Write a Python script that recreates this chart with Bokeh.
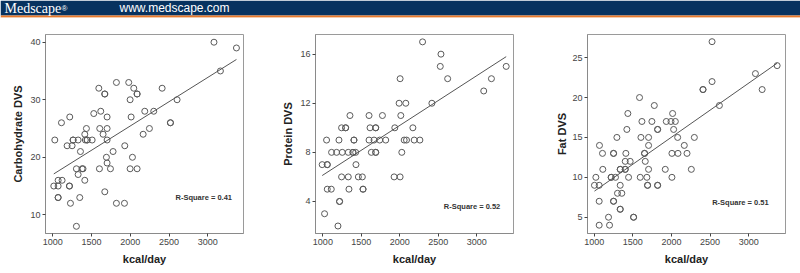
from bokeh.plotting import figure
from bokeh.layouts import column, row
from bokeh.models import FixedTicker, Label, Range1d
from bokeh.core.properties import value
from bokeh.embed import file_html
from bokeh.resources import INLINE

# ---------------- data ----------------
carb_kcal = [3080, 3370, 3163, 2604, 2411, 2518, 2518, 2303, 2187, 2247, 2166, 1980, 2045, 2088, 2088,
             1998, 2011, 2028, 1998, 2088, 1929, 1925, 1821, 1821, 1594, 1671, 1671, 1619, 1529, 1701,
             1606, 1701, 1649, 1701, 1778, 1692, 1701, 1744, 1602, 1671, 1219, 1112, 1434, 1413, 1026,
             1262, 1262, 1327, 1443, 1443, 1420, 1508, 1185, 1249, 1357, 1305, 1378, 1390, 1327, 1413,
             1069, 1120, 1013, 1069, 1215, 1215, 1069, 1069, 1348, 1228, 1305]
carb_dvs = [40, 39, 35, 30, 32, 26, 26, 28, 28, 25, 24, 33, 32, 31, 31,
            30, 27, 20, 18, 18, 22, 12, 12, 33, 32, 31, 31, 28, 27.6, 27,
            25, 25, 24, 23, 21, 20, 19, 18, 18, 14, 27, 26, 25, 24, 23,
            23, 23, 23, 23, 23, 23, 23, 22, 22, 21, 18, 18, 18, 17, 16,
            16, 16, 15, 15, 15, 15, 13, 13, 13, 12, 8]

prot_kcal = [2296, 2535, 2526, 3383, 2622, 2004, 3091, 3191, 2417, 1991, 2078, 2013, 1774, 1600, 1352,
             1935, 2170, 1613, 1687, 1687, 1296, 1296, 1243, 1048, 1209, 1404, 1404, 1600, 1665, 1739,
             1817, 2057, 2087, 2187, 2261, 991, 1057, 1057, 1430, 1113, 1178, 1252, 1330, 1391, 1391,
             1426, 1630, 1687, 1687, 2026, 1057, 1109, 1339, 1522, 1522, 1243, 1330, 1461, 1513, 1926,
             2004, 1217, 1217, 1022, 1196]
prot_dvs = [17, 16, 15, 15, 14, 14, 13, 14, 12, 12, 12, 11, 11, 11, 11,
            10, 10, 10, 10, 10, 10, 10, 10, 9, 9, 9, 9, 9, 9, 9,
            9, 9, 9, 9, 9, 7, 7, 7, 7, 8, 8, 8, 8, 8, 8,
            8, 8, 8, 8, 8, 5, 5, 5, 5, 5, 6, 6, 6, 6, 6,
            6, 4, 4, 3, 2]

fat_kcal = [2525, 2525, 3367, 3086, 3173, 2408, 2408, 2620, 1587, 1778, 1436, 2015, 1618, 1747, 1933,
            1994, 2050, 1423, 1821, 1821, 2028, 1294, 1605, 1704, 2080, 2296, 1069, 1704, 2166, 1108,
            1251, 1251, 1410, 1652, 1652, 2006, 2084, 2201, 1402, 1466, 1661, 1112, 1337, 1337, 1402,
            1402, 1704, 1920, 2257, 1022, 1220, 1220, 1276, 1445, 1596, 1682, 2006, 1004, 1065, 1337,
            1691, 1691, 1821, 1821, 1302, 1358, 1065, 1251, 1251, 1337, 1337, 1186, 1510, 1510, 1065,
            1199]
fat_dvs = [27, 22, 24, 23, 21, 21, 21, 19, 20, 19, 18, 18, 17, 17, 17,
           17, 17, 16, 16, 16, 16, 15, 15, 15, 15, 15, 14, 14, 14, 13,
           13, 13, 13, 13, 13, 13, 13, 13, 12, 12, 12, 11, 11, 11, 11,
           11, 11, 11, 11, 10, 10, 10, 10, 10, 10, 10, 10, 9, 9, 9,
           9, 9, 9, 9, 8, 8, 7, 7, 7, 6, 6, 5, 5, 5, 4,
           4]

# fit lines (intercept, slope) and R-square labels
fit_coef = {"carb": (8.56, 0.008439), "prot": (2.10, 0.004048), "fat": (1.46, 0.006784)}
r_square = {"carb": "R-Square = 0.41", "prot": "R-Square = 0.52", "fat": "R-Square = 0.51"}
y_labels = {"carb": "Carbohydrate DVS", "prot": "Protein DVS", "fat": "Fat DVS"}
x_ticks = [1000, 1500, 2000, 2500, 3000]
y_ticks = {"carb": [10, 20, 30, 40], "prot": [4, 8, 12, 16], "fat": [5, 10, 15, 20, 25]}

FONT = "Liberation Sans"


def panel(key, xs, ys, width, left, right, xr, yr, label_pos, label_standoff):
    p = figure(width=width, height=255, output_backend="svg", toolbar_location=None,
               x_range=Range1d(*xr), y_range=Range1d(*yr),
               min_border_left=left, min_border_right=right,
               min_border_top=16, min_border_bottom=40)
    p.background_fill_color = "white"
    p.border_fill_color = "white"
    p.outline_line_color = "#9a9a9a"
    p.outline_line_width = 1
    p.grid.visible = False
    for ax in (p.xaxis, p.yaxis):
        ax.axis_line_color = "#8a8a8a"
        ax.major_tick_line_color = "#444444"
        ax.major_tick_in = 0
        ax.major_tick_out = 3
        ax.minor_tick_line_color = None
        ax.major_label_text_font = FONT
        ax.major_label_text_font_size = "9px"
        ax.major_label_text_color = "#444444"
        ax.major_label_standoff = 2
        ax.axis_label_text_font = FONT
        ax.axis_label_text_font_size = "11px"
        ax.axis_label_text_font_style = "bold"
        ax.axis_label_text_color = "#222222"
    p.xaxis.ticker = FixedTicker(ticks=x_ticks)
    p.yaxis.ticker = FixedTicker(ticks=y_ticks[key])
    p.xaxis.axis_label = "kcal/day"
    p.yaxis.axis_label = y_labels[key]
    p.xaxis.axis_label_standoff = 5
    p.yaxis.axis_label_standoff = label_standoff

    p.scatter(xs, ys, marker="circle", size=6, fill_color=None,
              line_color="#5a5a5a", line_width=1)
    a, b = fit_coef[key]
    x0, x1 = min(xs), max(xs)
    p.line([x0, x1], [a + b * x0, a + b * x1], line_color="#555555", line_width=1)
    p.add_layout(Label(x=label_pos[0], y=label_pos[1], text=r_square[key],
                       text_font=FONT, text_font_size="7.5px", text_font_style="bold",
                       text_color="#333333", text_align="center", text_baseline="middle"))
    return p


p1 = panel("carb", carb_kcal, carb_dvs, 270, 45, 27, (906, 3461), (6.75, 41.34), (2948, 13.07), 3)
p2 = panel("prot", prot_kcal, prot_dvs, 270, 45, 27, (904, 3478), (1.39, 17.6), (2939, 3.56), 3)
p3 = panel("fat", fat_kcal, fat_dvs, 260, 47, 15, (914, 3475), (2.96, 27.9), (2892, 6.8), 1)

# header band
h = figure(width=800, height=18, output_backend="svg", toolbar_location=None,
           x_range=Range1d(0, 800), y_range=Range1d(0, 18),
           min_border=0, min_border_left=0, min_border_right=0,
           min_border_top=0, min_border_bottom=0)
h.axis.visible = False
h.grid.visible = False
h.outline_line_color = None
h.background_fill_color = "white"
h.border_fill_color = "white"
h.quad(left=[0], right=[800], bottom=[3], top=[18], fill_color="#07325f", line_color=None)
h.quad(left=[0], right=[800], bottom=[1], top=[3], fill_color="#e8782a", line_color=None)
h.quad(left=[0], right=[800], bottom=[0], top=[1], fill_color="#f6dcc4", line_color=None)
h.text(x=[4], y=[10.5], text=["Medscape"], text_font=value("Liberation Serif"),
       text_font_size="14px", text_color="white", text_baseline="middle")
h.text(x=[61], y=[10], text=["®"], text_font=value(FONT),
       text_font_size="8px", text_color="white", text_baseline="middle")
h.text(x=[119], y=[10.5], text=["www.medscape.com"], text_font=value(FONT),
       text_font_size="12px", text_color="white", text_baseline="middle")

layout = column(h, row(p1, p2, p3, spacing=0), spacing=0)
open("out.html", "w").write(file_html(layout, INLINE))
